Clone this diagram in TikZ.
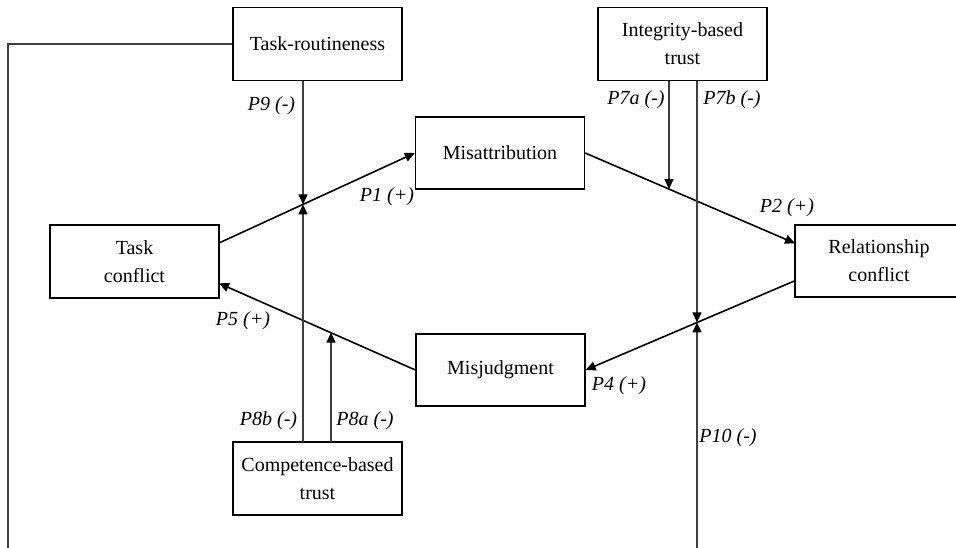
\documentclass[tikz,border=0pt]{standalone}
\usepackage{fontspec}
\setmainfont{Liberation Serif}
\usetikzlibrary{arrows.meta}
\begin{document}
\begin{tikzpicture}[
                x=1pt, y=-1pt,
                font=\fontsize{20}{28}\selectfont,
                construct/.style={
                    draw,
                    line width=1.3pt,
                    minimum width=169pt,
                    minimum height=73pt,
                    inner sep=2pt,
                    align=center
                },
                effect/.style={
                    line width=1.6pt,
                    -{Triangle[length=10pt,width=9pt]}
                },
                moderator/.style={
                    line width=1.3pt,
                    black!75,
                    -{Triangle[length=10pt,width=9pt,color=black]}
                },
                plainline/.style={
                    line width=1.3pt,
                    black!75
                },
                hyp/.style={
                    font=\fontsize{20}{22}\selectfont\itshape
                }
            ]
                \useasboundingbox (0,0) rectangle (956,548);
                \clip (0,0) rectangle (956,548);

                \node[construct] (routine) at (317.5,44) {Task-routineness};
                \node[construct] (integ) at (682.5,44) {Integrity-based\\trust};
                \node[construct, minimum height=72pt] (misattr) at (500,153) {Misattribution};
                \node[construct] (taskc) at (134.5,261.5) {Task\\conflict};
                \node[construct, minimum width=168pt, minimum height=72pt] (relc) at (879,261) {Relationship\\conflict};
                \node[construct, minimum height=72pt] (misjudg) at (500.5,370) {Misjudgment};
                \node[construct] (compet) at (317.5,478.5) {Competence-based\\trust};

                % ends on the box edges
                \node[coordinate] (tc1) at (219,243) {};
                \node[coordinate] (tc2) at (219,283.3) {};
                \node[coordinate] (rc1) at (795,243.3) {};
                \node[coordinate] (rc2) at (795,280.7) {};

                % moderator lines
                \node[coordinate] (r9) at (303,81) {};
                \node[coordinate] (j9) at (303,204.4) {};
                \node[coordinate] (c8b) at (303,442) {};
                \node[coordinate] (c8a) at (331,442) {};
                \node[coordinate] (j8a) at (331,332.6) {};
                \node[coordinate] (i7a) at (669,81) {};
                \node[coordinate] (j7a) at (669,189.1) {};
                \node[coordinate] (i7b) at (697,81) {};
                \node[coordinate] (j7b) at (697,322.4) {};
                \node[coordinate] (b10) at (697,548) {};
                \node[coordinate] (b0) at (8,548) {};

                \draw[effect] (tc1) -- (misattr.west);
                \draw[effect] (misattr.east) -- (rc1);
                \draw[effect] (rc2) -- (misjudg.east);
                \draw[effect] (misjudg.west) -- (tc2);

                \draw[moderator] (r9) -- (j9);
                \draw[moderator] (c8b) -- (j9);
                \draw[moderator] (c8a) -- (j8a);
                \draw[moderator] (i7a) -- (j7a);
                \draw[moderator] (i7b) -- (j7b);
                \draw[moderator] (b10) -- (j7b);

                \draw[plainline] (routine.west) -| (b0);

                \node[hyp] at (271.5,106) {P9 (-)};
                \node[hyp] at (387,197) {P1 (+)};
                \node[hyp] at (636,100) {P7a (-)};
                \node[hyp] at (732,100) {P7b (-)};
                \node[hyp] at (787,208) {P2 (+)};
                \node[hyp] at (243,321) {P5 (+)};
                \node[hyp] at (268.5,420.5) {P8b (-)};
                \node[hyp] at (365,420.5) {P8a (-)};
                \node[hyp] at (619,386) {P4 (+)};
                \node[hyp] at (728,438) {P10 (-)};

            \end{tikzpicture}
\end{document}
